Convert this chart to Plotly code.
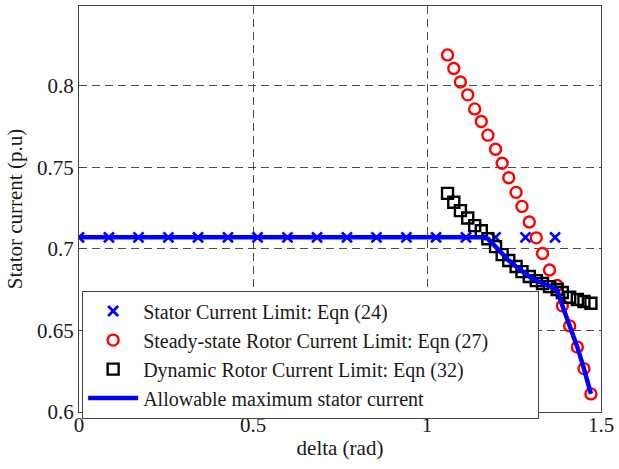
import plotly.graph_objects as go

# Rotor angle grids (rad)
stator_delta = [0, 0.086, 0.171, 0.257, 0.342, 0.428, 0.513, 0.599, 0.684,
                0.770, 0.855, 0.941, 1.026, 1.112, 1.197, 1.283, 1.368]
stator_current = [0.7071] * len(stator_delta)

rotor_delta = [1.059, 1.077, 1.096, 1.117, 1.137, 1.156, 1.175, 1.197, 1.216,
               1.235, 1.256, 1.273, 1.294, 1.314, 1.332, 1.352, 1.374, 1.389,
               1.410, 1.432, 1.451, 1.471]
steady_rotor_current = [0.8190, 0.8107, 0.8024, 0.7945, 0.7859, 0.7782, 0.7698,
                        0.7611, 0.7526, 0.7437, 0.7347, 0.7261, 0.7165, 0.7068,
                        0.6972, 0.6871, 0.6776, 0.6651, 0.6528, 0.6398, 0.6266,
                        0.6111]
dynamic_rotor_current = [0.7341, 0.7286, 0.7235, 0.7190, 0.7143, 0.7112, 0.7063,
                         0.7014, 0.6965, 0.6929, 0.6892, 0.6861, 0.6831, 0.6806,
                         0.6788, 0.6769, 0.6751, 0.6733, 0.6704, 0.6690, 0.6678,
                         0.6667]

allow_delta = [0, 1.156, 1.175, 1.197, 1.216, 1.235, 1.256, 1.273, 1.294, 1.314,
               1.332, 1.352, 1.374, 1.389, 1.410, 1.432, 1.451, 1.471]
allow_current = [0.7071, 0.7071, 0.7063, 0.7014, 0.6965, 0.6929, 0.6892, 0.6861,
                 0.6831, 0.6806, 0.6788, 0.6769, 0.6751, 0.6651, 0.6528, 0.6398,
                 0.6266, 0.6111]

x_ticks = [0, 0.5, 1, 1.5]
x_tick_text = ["0", "0.5", "1", "1.5"]
y_ticks = [0.6, 0.65, 0.7, 0.75, 0.8]
y_tick_text = ["0.6", "0.65", "0.7", "0.75", "0.8"]

FONT = "Liberation Serif, Times New Roman, serif"
INK = "#1a1a1a"
PAD = "\u00a0" * 9  # right-hand breathing room inside the legend box

fig = go.Figure()
fig.add_trace(go.Scatter(
    x=stator_delta, y=stator_current, mode="markers",
    name="Stator Current Limit: Eqn (24)",
    marker=dict(symbol="x-thin", size=10, color="#0000ff",
                line=dict(color="#0000ff", width=2.8)),
))
fig.add_trace(go.Scatter(
    x=rotor_delta, y=steady_rotor_current, mode="markers",
    name="Steady-state Rotor Current Limit: Eqn (27)" + PAD,
    marker=dict(symbol="circle-open", size=11, color="#ff0000",
                line=dict(color="#ff0000", width=2.4)),
))
fig.add_trace(go.Scatter(
    x=rotor_delta, y=dynamic_rotor_current, mode="markers",
    name="Dynamic Rotor Current Limit: Eqn (32)",
    marker=dict(symbol="square-open", size=11, color="#000000",
                line=dict(color="#000000", width=2.4)),
))
fig.add_trace(go.Scatter(
    x=allow_delta, y=allow_current, mode="lines",
    name="Allowable maximum stator current",
    line=dict(color="#0000ff", width=4.5),
))

axis_common = dict(
    showline=True, linecolor="#444444", linewidth=1.2, mirror=True,
    ticks="inside", ticklen=5, tickcolor="#444444",
    showgrid=True, gridcolor="#4d4d4d", gridwidth=1, griddash="8px,5px",
    zeroline=False,
    tickfont=dict(family=FONT, size=21, color=INK),
)

fig.update_xaxes(
    range=[0, 1.5], tickvals=x_ticks, ticktext=x_tick_text,
    ticklabelstandoff=-6,
    title=dict(text="delta (rad)", font=dict(family=FONT, size=21, color=INK),
               standoff=4),
    **axis_common,
)
fig.update_yaxes(
    range=[0.6, 0.849], tickvals=y_ticks, ticktext=y_tick_text,
    title=dict(text="Stator current (p.u)", font=dict(family=FONT, size=21, color=INK),
               standoff=8),
    **axis_common,
)

fig.update_layout(
    width=619, height=469,
    margin=dict(l=79, r=14, t=5, b=57),
    paper_bgcolor="white", plot_bgcolor="white",
    showlegend=True,
    legend=dict(
        x=0.006, y=0.299, xanchor="left", yanchor="top",
        bgcolor="white", bordercolor="#444444", borderwidth=1,
        font=dict(family=FONT, size=20, color=INK),
        itemwidth=50, tracegroupgap=0,
    ),
)

fig.write_html("out.html")
